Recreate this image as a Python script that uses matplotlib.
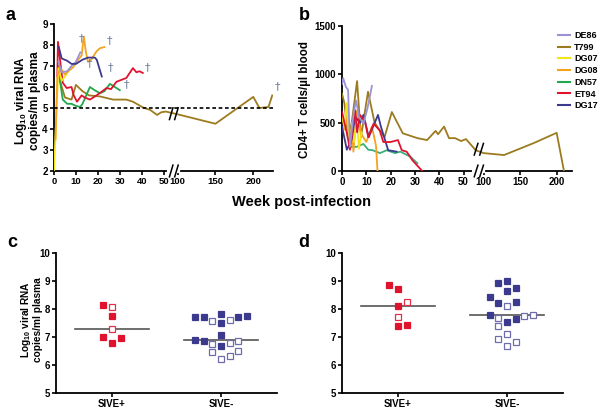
import numpy as np
import matplotlib
matplotlib.use("Agg")
import matplotlib.pyplot as plt

plt.rcParams['font.family'] = ['Liberation Sans', 'DejaVu Sans']
plt.rcParams['font.weight'] = 'bold'
plt.rcParams['axes.labelweight'] = 'bold'
plt.rcParams['mathtext.fontset'] = 'custom'
plt.rcParams['mathtext.rm'] = 'Liberation Sans:bold'
plt.rcParams['mathtext.default'] = 'rm'

# ---------------- data: panel a (log10 viral RNA vs week) ----------------
animals = ['DE86', 'T799', 'DG07', 'DG08', 'DN57', 'ET94', 'DG17']
colors = ['#9b93d3', '#9c7b1f', '#f2e51a', '#f5a31f', '#22a84a', '#e0132f', '#3b3a8e']

a_de86_wk = [2, 3.5, 6, 8, 10, 12]
a_de86_vl = [7.2, 6.7, 6.75, 7.0, 7.2, 7.65]
a_t799_wk = [2, 3, 5, 8, 10, 13, 16, 21, 27, 33, 36, 40.5, 44, 47, 49, 51, 100, 150, 200, 208, 220, 225]
a_t799_vl = [7.0, 6.2, 5.5, 5.4, 6.1, 5.8, 5.6, 5.55, 5.4, 5.4, 5.3, 5.03, 4.9, 4.67, 4.8, 4.83, 4.7, 4.25, 5.53, 5.0, 5.05, 5.6]
a_dg07_wk = [0, 1, 2, 3.5, 5, 6.5, 8]
a_dg07_vl = [2.0, 4.5, 6.9, 6.3, 6.5, 6.75, 6.9]
a_dg08_wk = [0.7, 1.5, 3, 5, 7, 8.8, 11, 12.6, 13.6, 14.5, 15.5, 17, 19.4, 21, 23]
a_dg08_vl = [3.5, 6.5, 6.9, 6.6, 6.8, 6.95, 7.3, 7.5, 8.4, 7.7, 7.2, 7.3, 7.7, 7.85, 7.9]
a_dn57_wk = [2, 4, 6, 8, 10, 12, 13, 16.4, 18.5, 21, 23, 25.5, 27, 30]
a_dn57_vl = [6.8, 5.4, 5.2, 5.2, 5.1, 5.05, 5.2, 6.0, 5.85, 5.7, 5.8, 6.15, 6.05, 5.85]
a_et94_wk = [1.5, 1.8, 4, 5.8, 8, 9, 10.5, 12.6, 14, 16.4, 19.4, 24, 26, 28.5, 33, 36, 37.6, 39, 40.5]
a_et94_vl = [6.5, 8.15, 6.2, 5.95, 6.0, 5.6, 5.3, 5.6, 5.5, 5.4, 5.6, 5.95, 5.9, 6.25, 6.43, 6.9, 6.7, 6.75, 6.67]
a_dg17_wk = [2.2, 3.5, 6, 8, 10, 13, 15.5, 18.6, 19.5, 21.8]
a_dg17_vl = [7.9, 7.36, 7.25, 7.1, 7.1, 7.3, 7.4, 7.4, 7.3, 6.5]
a_threshold = 5
# death markers (week, log10 VL)
a_dagger_wk = [11.4, 24, 15, 24.5, 41.4, 32, 228]
a_dagger_vl = [8.1, 8.0, 6.9, 6.7, 6.7, 5.9, 5.8]

# ---------------- data: panel b (CD4+ T cells vs week) ----------------
b_de86_wk = [0, 0.5, 1.6, 2.5, 3.3, 4.8, 5.8, 7, 8.8, 10.5, 12.3]
b_de86_cd4 = [900, 960, 870, 840, 250, 600, 730, 560, 490, 650, 880]
b_t799_wk = [0, 1, 2.5, 4, 6.2, 7.8, 10.7, 13.4, 17.5, 20.5, 25, 31, 35, 38.5, 39.5, 42, 44, 46.5, 49, 51, 55, 100, 128, 169, 200, 210]
b_t799_cd4 = [800, 700, 340, 500, 930, 350, 820, 500, 350, 610, 390, 340, 320, 415, 380, 460, 340, 340, 310, 330, 215, 185, 165, 290, 395, 0]
b_dg07_wk = [0, 1, 1.9, 3.3, 4.2, 5, 6, 7, 8]
b_dg07_cd4 = [600, 450, 700, 250, 500, 300, 550, 230, 400]
b_dg08_wk = [0, 1, 2, 3, 4, 4.7, 6, 8, 10, 12.3, 14, 14.6]
b_dg08_cd4 = [600, 430, 550, 300, 450, 200, 620, 380, 300, 460, 260, 0]
b_dn57_wk = [4, 6, 8.8, 10.8, 12.6, 15.6, 18.4, 21.8, 24, 28, 31]
b_dn57_cd4 = [250, 250, 280, 220, 215, 185, 215, 185, 200, 150, 80]
b_et94_wk = [0, 2, 3.3, 5.4, 6.2, 7.4, 9.5, 10.8, 13, 15.5, 17, 20, 23, 24.6, 26.6, 29, 33]
b_et94_cd4 = [610, 390, 220, 630, 400, 580, 510, 350, 490, 420, 300, 300, 320, 215, 200, 110, 0]
b_dg17_wk = [0, 2, 4, 5.4, 7.5, 8.8, 11, 14.8, 16, 17.7, 19, 22.5]
b_dg17_cd4 = [460, 220, 330, 560, 500, 580, 350, 580, 460, 320, 215, 200]

# ---------------- data: panels c, d (SIVE+ / SIVE-) ----------------
groups = ['SIVE+', 'SIVE-']
c_pos_filled = [8.15, 7.75, 7.01, 6.95, 6.77]
c_pos_open = [8.06, 7.28]
c_neg_filled = [7.73, 7.73, 7.82, 7.51, 7.73, 7.75, 6.89, 6.85, 7.07, 6.67]
c_neg_open = [7.58, 7.60, 6.75, 6.77, 6.87, 6.47, 6.23, 6.33, 6.51]
d_pos_filled = [8.87, 8.71, 8.12, 7.38, 7.43]
d_pos_open = [8.25, 7.70]
d_neg_filled = [8.93, 8.99, 8.63, 8.75, 8.42, 8.21, 8.24, 7.77, 7.52, 7.64]
d_neg_open = [8.12, 7.68, 7.76, 7.80, 7.38, 7.12, 6.93, 6.67, 6.81]

# jitter slots (layout only)
c_pos_filled_slot = [-1, 0, -1, 1, 0]
c_pos_open_slot = [0, 0]
c_neg_filled_slot = [-3, -2, 0, 0, 2, 3, -3, -2, 0, 0]
c_neg_open_slot = [-1, 1, -1, 1, 2, -1, 0, 1, 2]
d_pos_filled_slot = [-1, 0, 0, 0, 1]
d_pos_open_slot = [1, 0]
d_neg_filled_slot = [-1, 0, 0, 1, -2, -1, 1, -2, 0, 1]
d_neg_open_slot = [0, -1, 2, 3, -1, 0, -1, 0, 1]

W, H = 600, 412
fig = plt.figure(figsize=(6, 4.12), dpi=100)


def px_axes(l, r, t, b):
    return fig.add_axes([l / W, 1 - b / H, (r - l) / W, (b - t) / H])


def style(ax):
    for s in ['top', 'right']:
        ax.spines[s].set_visible(False)
    for s in ['left', 'bottom']:
        ax.spines[s].set_linewidth(1.3)
    ax.tick_params(direction='out', length=3, width=1.2, labelsize=7, pad=1.5)
    for lab in ax.get_xticklabels() + ax.get_yticklabels():
        lab.set_fontweight('bold')


def broken_scale(ax, kw, kp):
    fwd = lambda x: np.interp(x, kw, kp)
    inv = lambda u: np.interp(u, kp, kw)
    ax.set_xscale('function', functions=(fwd, inv))
    return fwd


def break_marks(ax, fwd, xb, ybs, x0, x1):
    fb = (fwd(xb) - fwd(x0)) / (fwd(x1) - fwd(x0))
    ax.plot([fb - 0.02, fb + 0.02], [0, 0], color='white', lw=3,
            transform=ax.transAxes, clip_on=False, zorder=5)
    for yb in ybs:
        for dx in (-0.012, 0.012):
            ax.plot([fb + dx - 0.008, fb + dx + 0.008], [yb - 0.04, yb + 0.04],
                    color='black', lw=1.1, transform=ax.transAxes,
                    clip_on=False, zorder=6)


# ---------------- panel a ----------------
axa = px_axes(54, 273, 24, 171)
fa = broken_scale(axa, [-50, 0, 53, 100, 400], [-110, 0, 116.6, 124, 352])
a_series = [(a_de86_wk, a_de86_vl), (a_t799_wk, a_t799_vl), (a_dg07_wk, a_dg07_vl),
            (a_dg08_wk, a_dg08_vl), (a_dn57_wk, a_dn57_vl), (a_et94_wk, a_et94_vl),
            (a_dg17_wk, a_dg17_vl)]
order = [1, 4, 5, 2, 3, 0, 6]
for i in order:
    wk, vl = a_series[i]
    axa.plot(wk, vl, color=colors[i], lw=1.3, zorder=3)
axa.axhline(a_threshold, color='black', lw=1.2, ls=(0, (2.2, 1.6)), zorder=4)
for w, v in zip(a_dagger_wk, a_dagger_vl):
    axa.text(w, v, '\u2020', color='#6f7f9c', fontsize=8, ha='left', va='bottom',
             fontweight='normal', family='DejaVu Sans')
axa.set_xlim(0, 226)
axa.set_ylim(2, 9)
axa.set_xticks([0, 10, 20, 30, 40, 50, 100, 150, 200])
axa.set_yticks(range(2, 10))
style(axa)
axa.tick_params(axis='x', labelsize=6.8)
break_marks(axa, fa, 76, [0, 0.39], 0, 226)

# ---------------- panel b ----------------
axb = px_axes(342, 572, 26, 171)
fb_ = broken_scale(axb, [-50, 0, 55, 98, 400], [-121.5, 0, 133.6, 140, 360.5])
b_series = [(b_de86_wk, b_de86_cd4), (b_t799_wk, b_t799_cd4), (b_dg07_wk, b_dg07_cd4),
            (b_dg08_wk, b_dg08_cd4), (b_dn57_wk, b_dn57_cd4), (b_et94_wk, b_et94_cd4),
            (b_dg17_wk, b_dg17_cd4)]
b_colors = list(colors)
b_colors[4] = '#3aae7c'
for i in [1, 4, 3, 2, 6, 5, 0]:
    wk, cd = b_series[i]
    axb.plot(wk, cd, color=b_colors[i], lw=1.3, zorder=3)
axb.set_xlim(0, 221)
axb.set_ylim(0, 1500)
axb.set_xticks([0, 10, 20, 30, 40, 50, 100, 150, 200])
axb.set_yticks([0, 500, 1000, 1500])
style(axb)
break_marks(axb, fb_, 76, [0, 0.15], 0, 221)

handles = [plt.Line2D([], [], color=c, lw=1.5) for c in colors]
leg = fig.legend(handles, animals, loc='upper left', bbox_to_anchor=(558 / W, 1 - 31 / H),
                 frameon=False, fontsize=6.5, handlelength=1.3, handletextpad=0.5,
                 labelspacing=0.3, borderpad=0, borderaxespad=0)
for t in leg.get_texts():
    t.set_fontweight('bold')

# ---------------- panels c and d ----------------
step = 0.08
red, red_open = '#e0132f', '#e0304a'
navy, navy_open = '#3b3a8e', '#6e6cab'


def scatter_panel(ax, sets):
    for xc, vals, slots, col, filled in sets:
        xs = [xc + s * step for s in slots]
        ax.plot(xs, vals, ls='none', marker='s', ms=4.6,
                mfc=col if filled else 'white', mec=col, mew=0.9, zorder=3)
    ax.set_xlim(0.486, 2.514)
    ax.set_ylim(5, 10)
    ax.set_yticks(range(5, 11))
    ax.set_xticks([1, 2])
    ax.set_xticklabels(groups)
    style(ax)


axc = px_axes(56, 277, 253, 393)
scatter_panel(axc, [(1, c_pos_filled, c_pos_filled_slot, red, True),
                    (1, c_pos_open, c_pos_open_slot, red_open, False),
                    (2, c_neg_filled, c_neg_filled_slot, navy, True),
                    (2, c_neg_open, c_neg_open_slot, navy_open, False)])
for xc, vals in [(1, c_pos_filled + c_pos_open), (2, c_neg_filled + c_neg_open)]:
    axc.plot([xc - 0.34, xc + 0.34], [np.median(vals)] * 2, color='#555555', lw=1.2, zorder=2)

axd = px_axes(342, 563, 253, 393)
scatter_panel(axd, [(1, d_pos_filled, d_pos_filled_slot, red, True),
                    (1, d_pos_open, d_pos_open_slot, red_open, False),
                    (2, d_neg_filled, d_neg_filled_slot, navy, True),
                    (2, d_neg_open, d_neg_open_slot, navy_open, False)])
for xc, vals in [(1, d_pos_filled + d_pos_open), (2, d_neg_filled + d_neg_open)]:
    axd.plot([xc - 0.34, xc + 0.34], [np.median(vals)] * 2, color='#555555', lw=1.2, zorder=2)

# ---------------- labels ----------------
for lab, x, y in [('a', 10, 15), ('b', 304, 15), ('c', 12, 243), ('d', 304, 243)]:
    fig.text(x / W, 1 - y / H, lab, fontsize=13, fontweight='bold', ha='center', va='center')

fig.text(27 / W, 1 - 101 / H, 'Log$_{10}$ viral RNA\ncopies/ml plasma', rotation=90,
         ha='center', va='center', fontsize=8.5, fontweight='bold', linespacing=1.1)
fig.text(31 / W, 1 - 320 / H, 'Log$_{10}$ viral RNA\ncopies/ml plasma', rotation=90,
         ha='center', va='center', fontsize=7.3, fontweight='bold', linespacing=1.1)
fig.text(305 / W, 1 - 100 / H, 'CD4+ T cells/\u00b5l blood', rotation=90,
         ha='center', va='center', fontsize=8.3, fontweight='bold')
fig.text(302 / W, 1 - 202 / H, 'Week post-infection', ha='center', va='center',
         fontsize=10.5, fontweight='bold')

fig.savefig('out.png', dpi=100)
